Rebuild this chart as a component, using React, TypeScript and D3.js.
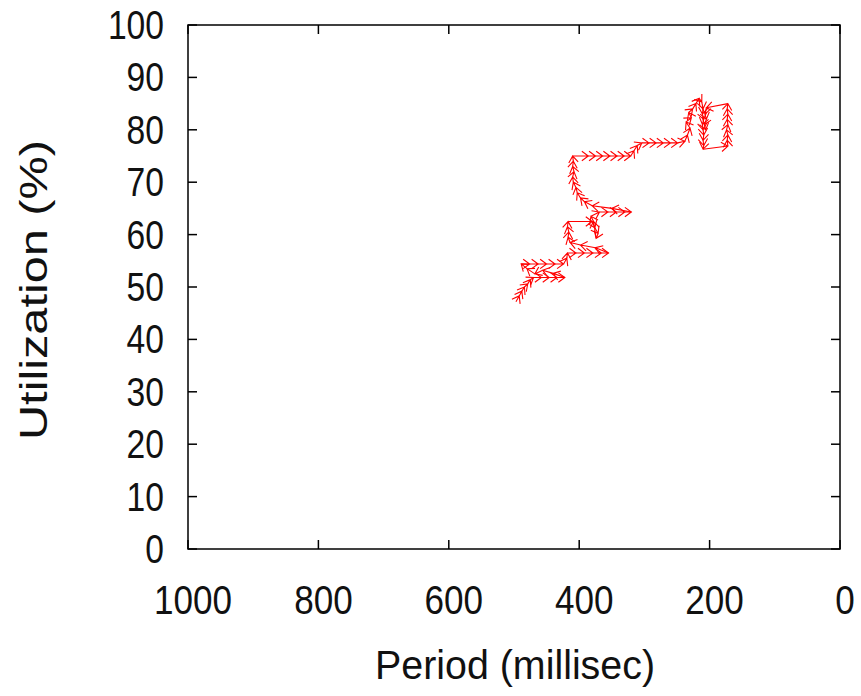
import React from "react";
import * as d3 from "d3";

// Trajectory of (period, utilization) adjustments, in visiting order
const periodMs: number[] = [
  497, 492, 488, 484, 479, 475, 470,
  458, 446, 434, 422,
  440, 456, 468, 480, 489,
  476, 463, 450, 437, 424,
  419, 418,
  405, 392, 379, 366, 355,
  375, 398, 414, 417, 416, 418, 417,
  380,
  376, 371, 374, 378, 382,
  369, 356, 343, 330, 320,
  350, 380, 392, 398, 403,
  405, 409, 410, 408, 410, 409, 410,
  386,
  375, 364, 353, 342, 331, 321,
  316, 311, 304,
  293, 282, 271, 260, 249, 238,
  234, 230, 236, 228, 232, 226, 221,
  216, 212,
  210, 211, 209, 211, 210, 209, 210, 209, 210,
  172,
  173, 172, 174, 172, 173, 172, 173, 172,
  205,
  207, 205, 208, 206,
];

const utilization: number[] = [
  47.2, 48.3, 49.2, 50.0, 50.6, 51.4, 51.8,
  51.8, 51.8, 51.8, 51.8,
  52.6, 53.2, 52.5, 53.5, 54.4,
  54.4, 54.4, 54.4, 54.4, 54.4,
  55.5, 56.5,
  56.5, 56.5, 56.5, 56.5, 56.5,
  57.5, 58.0, 58.5, 59.5, 60.5, 61.5, 62.5,
  62.5,
  61.3, 60.2, 59.3, 62.5, 63.5,
  64.3, 64.3, 64.3, 64.3, 64.3,
  65.0, 65.5, 66.3, 67.0, 68.0,
  69.0, 70.0, 71.0, 72.0, 73.0, 74.0, 75.0,
  75.0,
  75.0, 75.0, 75.0, 75.0, 75.0, 75.0,
  76.0, 77.0, 77.5,
  77.5, 77.5, 77.5, 77.5, 77.5, 77.8,
  79.0, 80.3, 81.5, 82.3, 83.3, 84.0, 85.0,
  86.0, 85.3,
  84.0, 83.0, 82.0, 81.0, 80.0, 79.0, 78.0, 77.0, 76.3,
  76.9,
  78.0, 79.0, 80.0, 81.0, 82.0, 83.0, 84.0, 85.0,
  84.2,
  83.0, 82.0, 81.0, 80.0,
];

const xTicks: number[] = [1000, 800, 600, 400, 200, 0];
const yTicks: number[] = [0, 10, 20, 30, 40, 50, 60, 70, 80, 90, 100];

const W = 861;
const H = 696;
const left = 188;
const right = 840;
const top = 25;
const bottom = 549;
const tickLen = 9;
const font = "'Liberation Sans', Arial, Helvetica, sans-serif";

export default function App() {
  const x = d3.scaleLinear().domain([1000, 0]).range([left, right]);
  const y = d3.scaleLinear().domain([0, 100]).range([bottom, top]);

  const pts = periodMs.map((p, i) => [x(p), y(utilization[i])] as [number, number]);

  // One arrow per consecutive step: shaft plus an open head at the end point
  const arrows = pts.slice(1).map((b, i) => {
    const a = pts[i];
    const ang = Math.atan2(b[1] - a[1], b[0] - a[0]);
    const hl = 8;
    const spread = Math.PI / 5;
    const h1: [number, number] = [b[0] - hl * Math.cos(ang - spread), b[1] - hl * Math.sin(ang - spread)];
    const h2: [number, number] = [b[0] - hl * Math.cos(ang + spread), b[1] - hl * Math.sin(ang + spread)];
    const line = d3.line();
    return line([a, b]) + " " + line([h1, b, h2]);
  });

  return (
    <svg
      width={W}
      height={H}
      style={{ position: "absolute", left: 0, top: 0, background: "#fff" }}
    >
      <rect x={0} y={0} width={W} height={H} fill="#fff" />
      <g stroke="#000" strokeWidth={1.5} fill="none">
        {xTicks.map((t) => (
          <g key={"xt" + t}>
            <line x1={x(t)} x2={x(t)} y1={bottom} y2={bottom - tickLen} />
            <line x1={x(t)} x2={x(t)} y1={top} y2={top + tickLen} />
          </g>
        ))}
        {yTicks.map((t) => (
          <g key={"yt" + t}>
            <line x1={left} x2={left + tickLen} y1={y(t)} y2={y(t)} />
            <line x1={right} x2={right - tickLen} y1={y(t)} y2={y(t)} />
          </g>
        ))}
        <rect x={left} y={top} width={right - left} height={bottom - top} />
      </g>

      <g stroke="#ff0000" strokeWidth={1.1} fill="none" strokeLinejoin="miter">
        {arrows.map((d, i) => (
          <path key={i} d={d} />
        ))}
      </g>

      <g fontFamily={font} fontSize={41} fill="#111">
        {yTicks.map((t) => (
          <text
            key={"yl" + t}
            x={164}
            y={y(t)}
            textAnchor="end"
            dominantBaseline="central"
            textLength={String(t).length * 18.7}
            lengthAdjust="spacingAndGlyphs"
          >
            {t}
          </text>
        ))}
        {xTicks.map((t) => (
          <text
            key={"xl" + t}
            x={x(t) + 5}
            y={600}
            textAnchor="middle"
            dominantBaseline="central"
            textLength={String(t).length * 19.5}
            lengthAdjust="spacingAndGlyphs"
          >
            {t}
          </text>
        ))}
        <text
          x={515}
          y={679}
          textAnchor="middle"
          textLength={280}
          lengthAdjust="spacingAndGlyphs"
        >
          Period (millisec)
        </text>
        <text
          transform={`translate(47, 290) rotate(-90)`}
          textAnchor="middle"
          fontSize={38}
          textLength={300}
          lengthAdjust="spacingAndGlyphs"
        >
          Utilization (%)
        </text>
      </g>
    </svg>
  );
}
